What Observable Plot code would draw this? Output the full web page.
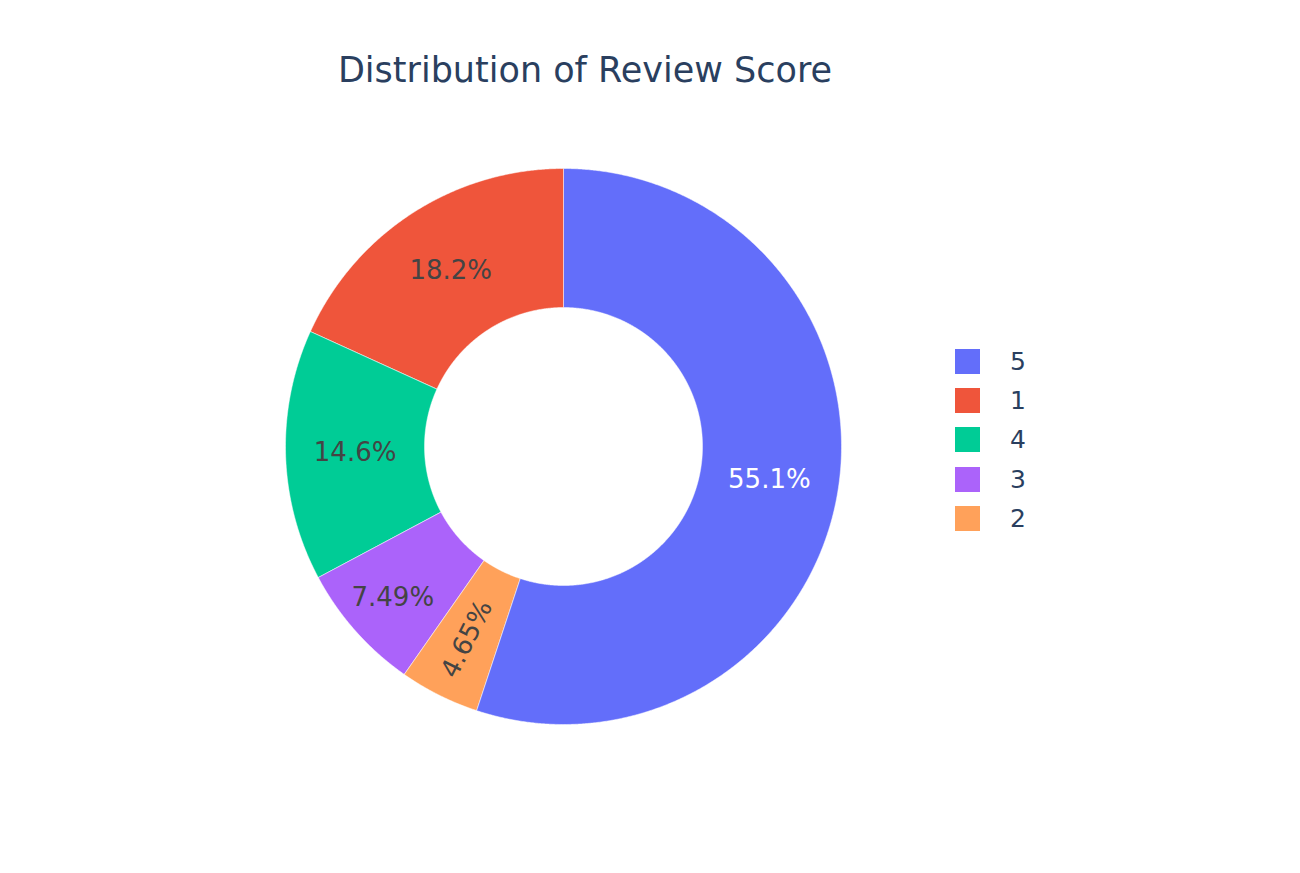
<!DOCTYPE html>
<html>
<head>
<meta charset="utf-8">
<script src="https://cdn.jsdelivr.net/npm/d3@7"></script>
<script src="https://cdn.jsdelivr.net/npm/@observablehq/plot@0.6"></script>
<style>
  body { margin: 0; background: #fff; font-family: "DejaVu Sans", Verdana, sans-serif; }
  #wrap { position: relative; width: 1300px; height: 873px; overflow: hidden; }
  #title { position: absolute; left: 0; width: 1170px; top: 50px; text-align: center;
           font-size: 35px; color: #2a3f5f; white-space: nowrap; }
  #chart { position: absolute; left: 0; top: 0; }
  #legend { position: absolute; left: 955px; top: 342px; }
  .item { display: flex; align-items: center; height: 39.2px; }
  .sw { width: 25px; height: 25px; }
  .lab { margin-left: 30px; font-size: 25px; color: #2a3f5f; line-height: 1; }
</style>
</head>
<body>
<div id="wrap">
  <div id="chart"></div>
  <div id="title">Distribution of Review Score</div>
  <div id="legend"></div>
</div>
<script>
// ---- data (legend order) ----
const labels = ["5", "1", "4", "3", "2"];
const percents = [55.1, 18.2, 14.6, 7.49, 4.65];
const colors = ["#636efa", "#EF553B", "#00cc96", "#ab63fa", "#FFA15A"];
const textLabels = ["55.1%", "18.2%", "14.6%", "7.49%", "4.65%"];

// clockwise drawing order starting at 12 o'clock
const drawOrder = ["5", "2", "3", "4", "1"];

const W = 1300, H = 873;
const cx = 563, cy = 446, R = 278;
const hole = 0.5;

const rows = labels.map((l, i) => ({label: l, value: percents[i], text: textLabels[i]}));
const ordered = drawOrder.map(l => rows.find(r => r.label === l));
const arcs = d3.pie().sort(null).value(d => d.value)(ordered);

// polygon outline of each ring slice in unit coordinates (y up)
const poly = [];
const pt = (r, a) => [r * Math.sin(a), r * Math.cos(a)];
arcs.forEach(a => {
  const n = Math.max(2, Math.ceil((a.endAngle - a.startAngle) / 0.005));
  const pts = [];
  for (let k = 0; k <= n; k++) pts.push(pt(1, a.startAngle + (a.endAngle - a.startAngle) * k / n));
  for (let k = n; k >= 0; k--) pts.push(pt(hole, a.startAngle + (a.endAngle - a.startAngle) * k / n));
  pts.forEach(([x, y]) => poly.push({label: a.data.label, x, y}));
});

// label positions
const textData = arcs.map(a => {
  const mid = (a.startAngle + a.endAngle) / 2;
  const frac = (a.endAngle - a.startAngle) / (2 * Math.PI);
  const r = frac < 0.06 ? 0.775 : frac < 0.1 ? 0.82 : 0.75;
  const [x, y] = pt(r, mid);
  let rot = 0;
  if (frac < 0.06) {
    const deg = mid * 180 / Math.PI;
    rot = deg - 270;
    while (rot < -90) rot += 180;
    while (rot > 90) rot -= 180;
  }
  return {label: a.data.label, text: a.data.text, x, y, rot,
          color: a.data.label === "5" ? "#ffffff" : "#444444"};
});

const chart = Plot.plot({
  width: W, height: H,
  margin: 0,
  x: {domain: [-cx / R, (W - cx) / R], axis: null},
  y: {domain: [-(H - cy) / R, cy / R], axis: null},
  color: {domain: labels, range: colors},
  style: {background: "transparent"},
  marks: [
    Plot.line(poly, {x: "x", y: "y", z: "label", fill: "label", stroke: "white", strokeWidth: 0.5, curve: "linear-closed"}),
    Plot.text(textData, {x: "x", y: "y", text: "text", fill: d => d.color, rotate: "rot",
      fontSize: 26, fontFamily: "DejaVu Sans, Verdana, sans-serif"})
  ]
});
document.getElementById("chart").appendChild(chart);

// legend
const leg = d3.select("#legend");
labels.forEach((l, i) => {
  const it = leg.append("div").attr("class", "item");
  it.append("div").attr("class", "sw").style("background", colors[i]);
  it.append("div").attr("class", "lab").text(l);
});
</script>
</body>
</html>
